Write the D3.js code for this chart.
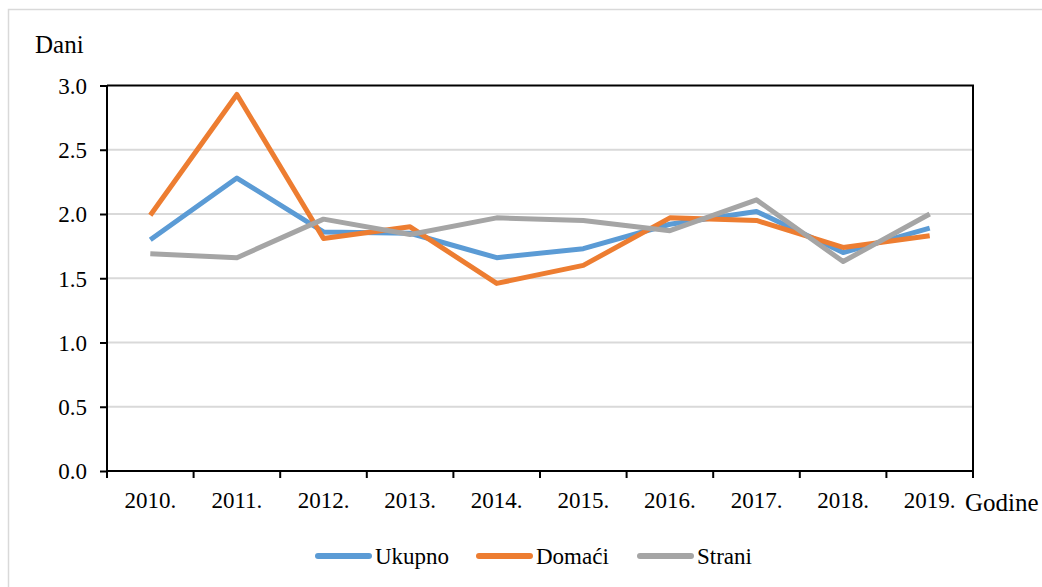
<!DOCTYPE html>
<html>
<head>
<meta charset="utf-8">
<script src="https://cdn.jsdelivr.net/npm/d3@7"></script>
<style>
  body { margin: 0; background: #fff; }
  svg text { font-family: "Liberation Serif", "Times New Roman", Times, "DejaVu Serif", serif !important; fill: #000; }
</style>
</head>
<body>
<div id="output"></div>
<script>
(function () {

"use strict";

var years = [ "2010.", "2011.", "2012.", "2013.", "2014.", "2015.", "2016.", "2017.", "2018.", "2019." ]
var ukupno = [ 1.80, 2.28, 1.86, 1.85, 1.66, 1.73, 1.92, 2.02, 1.70, 1.89 ]
var domaci = [ 1.99, 2.93, 1.81, 1.90, 1.46, 1.60, 1.97, 1.95, 1.74, 1.83 ]
var strani = [ 1.69, 1.66, 1.96, 1.84, 1.97, 1.95, 1.87, 2.11, 1.63, 2.00 ]
var yTicks = [ 0, 0.5, 1.0, 1.5, 2.0, 2.5, 3.0 ]

var series = [
  { name: "Ukupno", values: ukupno, color: "#5B9BD5" },
  { name: "Domaći", values: domaci, color: "#ED7D31" },
  { name: "Strani", values: strani, color: "#A5A5A5" }
]

var width = 1042
  , height = 587
  , left = 107, right = 973, top = 85.5, bottom = 471

var svg = d3.select("#output").append("svg").attr("width", width).attr("height", height)

// outer chart frame
svg.append("rect")
  .attr("x", 8.5).attr("y", 9.5)
  .attr("width", width + 20).attr("height", height + 20)
  .attr("fill", "none").attr("stroke", "#d9d9d9").attr("stroke-width", 1.5)

var x = d3.scaleBand().domain(years).range([left, right])
var y = d3.scaleLinear().domain([0, 3]).range([bottom, top])

// gridlines
svg.append("g")
  .selectAll("line").data(yTicks.filter(function (d) { return d > 0 && d < 3 }))
  .enter().append("line")
  .attr("x1", left).attr("x2", right)
  .attr("y1", function (d) { return y(d) }).attr("y2", function (d) { return y(d) })
  .style("stroke", "#d9d9d9").style("stroke-width", 2)

// top and right frame of plot
svg.append("path")
  .attr("d", "M" + left + "," + top + "H" + right + "V" + bottom)
  .attr("fill", "none").attr("stroke", "#000").attr("stroke-width", 2)

// y axis
var yAxis = svg.append("g")
  .attr("transform", "translate(" + left + ",0)")
  .call(d3.axisLeft(y).tickValues(yTicks).tickFormat(d3.format(".1f")).tickSize(7).tickPadding(13))
yAxis.attr("font-family", null)
yAxis.select(".domain").attr("stroke-width", 2).attr("d", "M0," + top + "V" + bottom)
yAxis.selectAll(".tick line").attr("stroke-width", 2)
yAxis.selectAll("text").style("font-size", "23px").attr("dy", "0.34em")

// x axis, ticks at category boundaries
var xAxis = svg.append("g")
  .attr("transform", "translate(0," + bottom + ")")
  .call(d3.axisBottom(x).tickSize(0).tickPadding(0))
xAxis.attr("font-family", null)
xAxis.select(".domain").attr("stroke-width", 2).attr("d", "M" + left + ",0H" + right)
xAxis.selectAll("text").style("font-size", "23px").attr("y", 37).attr("dy", 0)
xAxis.selectAll(".bound").data(years.concat([null]))
  .enter().append("line")
  .attr("class", "bound")
  .attr("x1", function (d, i) { return left + i * x.bandwidth() })
  .attr("x2", function (d, i) { return left + i * x.bandwidth() })
  .attr("y1", 0).attr("y2", 7)
  .attr("stroke", "#000").attr("stroke-width", 2)

// axis titles
svg.append("text").attr("x", 35).attr("y", 53).style("font-size", "25px").text("Dani")
svg.append("text").attr("x", 965).attr("y", 511).style("font-size", "25px").text("Godine")

// lines
var line = d3.line()
  .x(function (d, i) { return x(years[i]) + x.bandwidth() / 2 })
  .y(function (d) { return y(d) })

svg.append("g").selectAll("path").data(series)
  .enter().append("path")
  .attr("d", function (d) { return line(d.values) })
  .attr("fill", "none")
  .attr("stroke", function (d) { return d.color })
  .attr("stroke-width", 5)
  .attr("stroke-linejoin", "round")

// legend
var legendX = [ 316, 477, 638 ]
var legend = svg.append("g").selectAll("g").data(series)
  .enter().append("g")
  .attr("transform", function (d, i) { return "translate(" + legendX[i] + ",556)" })
legend.append("line")
  .attr("x1", 2).attr("x2", 53).attr("y1", 0).attr("y2", 0)
  .attr("stroke", function (d) { return d.color })
  .attr("stroke-width", 6).attr("stroke-linecap", "round")
legend.append("text")
  .attr("x", 59).attr("y", 8)
  .style("font-size", "23px")
  .text(function (d) { return d.name })

}())
</script>
</body>
</html>
